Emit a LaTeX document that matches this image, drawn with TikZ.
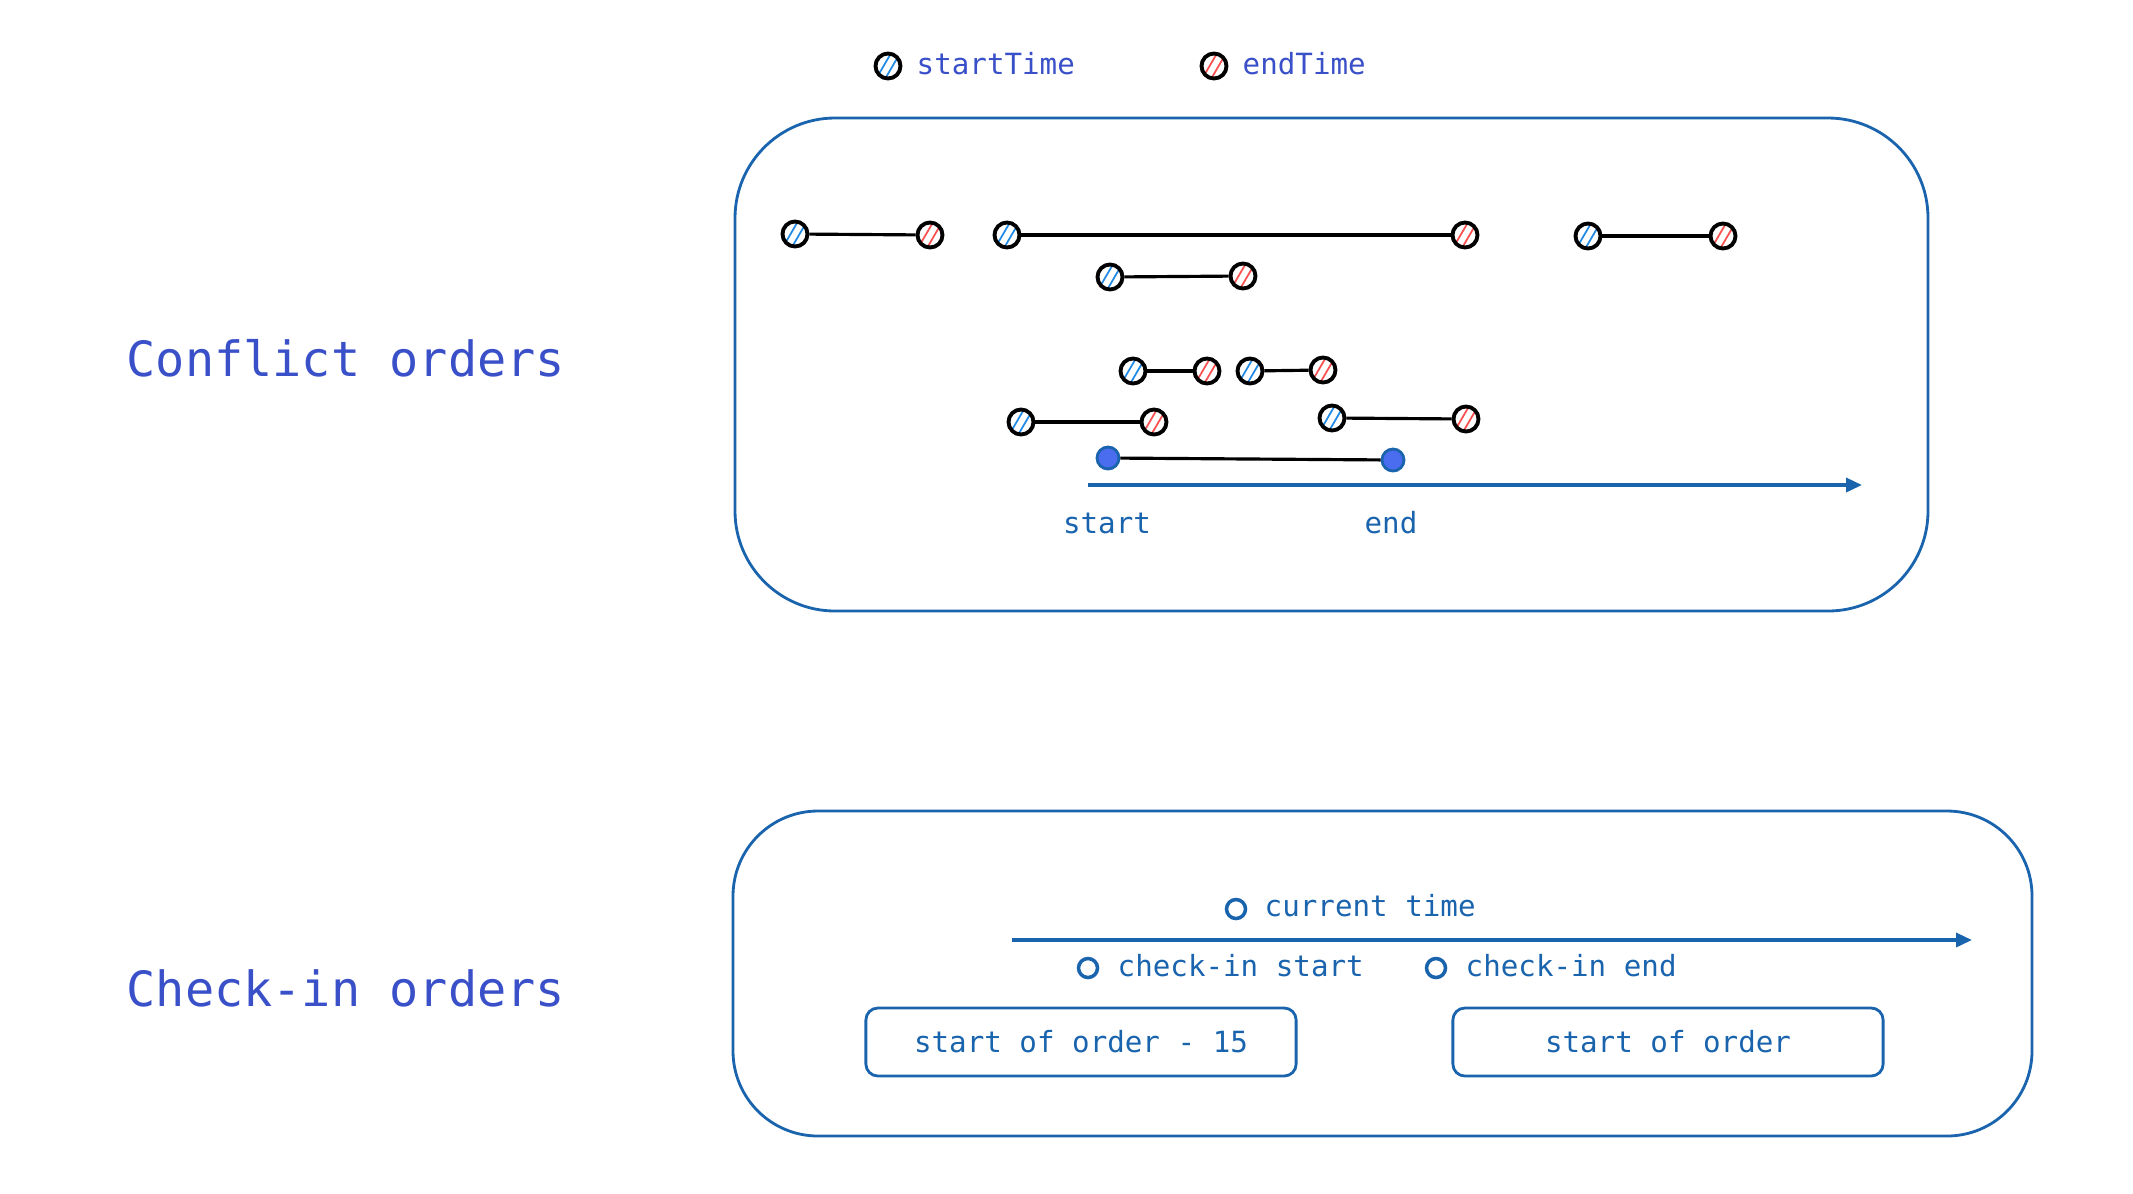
\documentclass[tikz,border=0pt]{standalone}
\usepackage{fontspec}
\setmonofont{DejaVu Sans Mono}
\usetikzlibrary{arrows.meta}
\definecolor{titleblue}{HTML}{3A50C8}
\definecolor{lineblue}{HTML}{1A64AE}
\definecolor{hatchblue}{HTML}{228BE6}
\definecolor{hatchred}{HTML}{FA5252}
\definecolor{dotblue}{HTML}{4A6CEE}

\tikzset{
	begdot/.style={circle, draw=black, line width=1.1pt, fill=white, minimum size=0.25cm, inner sep=0pt,
		path picture={
			\draw[hatchblue, line width=0.5pt] ([xshift=-0.12cm, yshift=-0.13cm]path picture bounding box.center) -- ++(0.14cm,0.24cm);
			\draw[hatchblue, line width=0.5pt] ([xshift=-0.03cm, yshift=-0.13cm]path picture bounding box.center) -- ++(0.14cm,0.24cm);
		}},
	enddot/.style={begdot,
		path picture={
			\draw[hatchred, line width=0.5pt] ([xshift=-0.12cm, yshift=-0.13cm]path picture bounding box.center) -- ++(0.14cm,0.24cm);
			\draw[hatchred, line width=0.5pt] ([xshift=-0.03cm, yshift=-0.13cm]path picture bounding box.center) -- ++(0.14cm,0.24cm);
		}},
	fulldot/.style={circle, draw=lineblue, line width=0.8pt, fill=dotblue, minimum size=0.22cm, inner sep=0pt},
	opendot/.style={circle, draw=lineblue, line width=1pt, minimum size=0.19cm, inner sep=0pt},
	bar/.style={line width=0.9pt, black},
	axis/.style={line width=1pt, lineblue, -{Triangle[length=0.16cm, width=0.14cm]}},
	frame/.style={draw=lineblue, line width=0.8pt},
	title/.style={anchor=west, inner sep=0pt, text=titleblue, font=\ttfamily\fontsize{13.8}{16}\selectfont},
	legend/.style={anchor=west, inner sep=0pt, text=titleblue, font=\ttfamily\fontsize{8.3}{10}\selectfont},
	tick/.style={inner sep=0pt, text=lineblue, font=\ttfamily\fontsize{8.3}{10}\selectfont},
	orderbox/.style={frame, rounded corners=0.12cm, minimum width=4.3cm, minimum height=0.68cm, text=lineblue, font=\ttfamily\fontsize{8.3}{10}\selectfont}
}

\begin{document}
\begin{tikzpicture}[x=0.01cm, y=-0.01cm]
	\useasboundingbox (0,0) rectangle (2133,1193);
	
	% titles
	\node (conflict) [title] at (126,358) {Conflict orders};
	\node (checkin) [title] at (126,988) {Check-in orders};
	
	% legend
	\node (legbeg) [begdot] at (888,66) {};
	\node (legbegtxt) [legend] at (916,64) {startTime};
	\node (legend) [enddot] at (1214,66) {};
	\node (legendtxt) [legend] at (1242,64) {endTime};
	
	% conflict orders
	\draw[frame, rounded corners=1cm] (735,118) rectangle (1928,611);
	
	\node (s1) [begdot] at (795,234) {};
	\node (e1) [enddot] at (930,235) {};
	\draw[bar] (s1) -- (e1);
	\node (s2) [begdot] at (1007,235) {};
	\node (e2) [enddot] at (1465,235) {};
	\draw[bar] (s2) -- (e2);
	\node (s3) [begdot] at (1588,236) {};
	\node (e3) [enddot] at (1723,236) {};
	\draw[bar] (s3) -- (e3);
	\node (s4) [begdot] at (1110,277) {};
	\node (e4) [enddot] at (1243,276) {};
	\draw[bar] (s4) -- (e4);
	\node (s5) [begdot] at (1133,371) {};
	\node (e5) [enddot] at (1207,371) {};
	\draw[bar] (s5) -- (e5);
	\node (s6) [begdot] at (1250,371) {};
	\node (e6) [enddot] at (1323,370) {};
	\draw[bar] (s6) -- (e6);
	\node (s7) [begdot] at (1021,422) {};
	\node (e7) [enddot] at (1154,422) {};
	\draw[bar] (s7) -- (e7);
	\node (s8) [begdot] at (1332,418) {};
	\node (e8) [enddot] at (1466,419) {};
	\draw[bar] (s8) -- (e8);
	
	\node (qstart) [fulldot] at (1108,458) {};
	\node (qend) [fulldot] at (1393,460) {};
	\draw[bar] (qstart) -- (qend);
	
	\coordinate (ax1) at (1088,485);
	\coordinate (ax2) at (1862,485);
	\draw[axis] (ax1) -- (ax2);
	\node (lstart) [tick] at (1107,523) {start};
	\node (lend) [tick] at (1391,523) {end};
	
	% check-in orders
	\draw[frame, rounded corners=0.85cm] (733,811) rectangle (2032,1136);
	
	\node (now) [opendot] at (1236,909) {};
	\node (nowtxt) [tick, anchor=west] at (1264,906) {current time};
	\coordinate (ax3) at (1012,940);
	\coordinate (ax4) at (1972,940);
	\draw[axis] (ax3) -- (ax4);
	\node (cin) [opendot] at (1088,968) {};
	\node (cintxt) [tick, anchor=west] at (1117,966) {check-in start};
	\node (cout) [opendot] at (1436,968) {};
	\node (couttxt) [tick, anchor=west] at (1465,966) {check-in end};
	
	\node (early) [orderbox] at (1081,1042) {start of order - 15};
	\node (begin) [orderbox] at (1668,1042) {start of order};
\end{tikzpicture}
\end{document}
